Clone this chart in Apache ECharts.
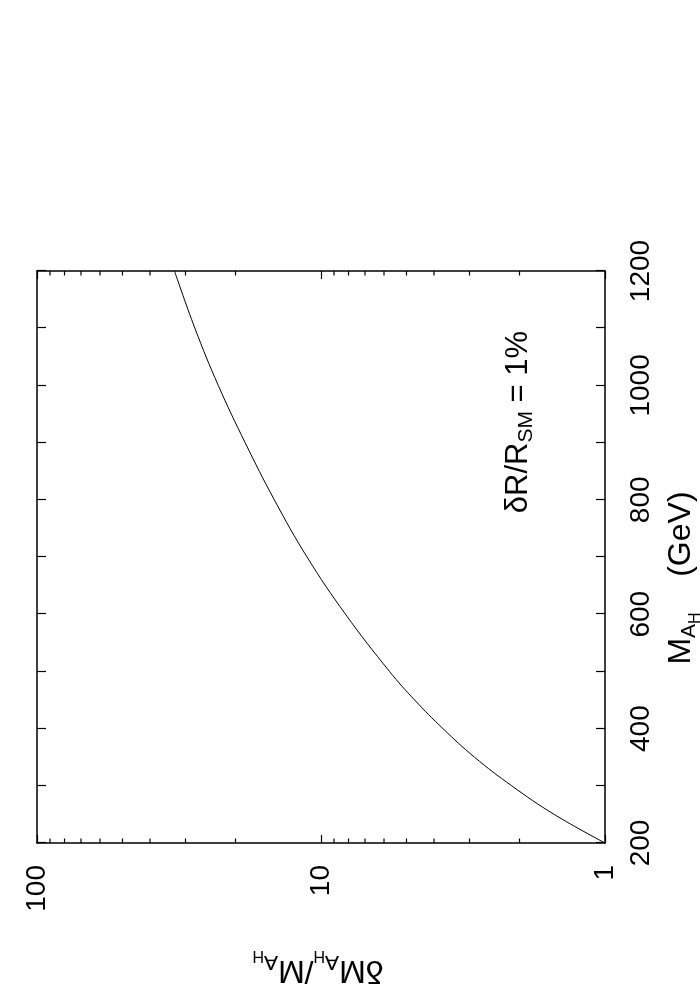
<!DOCTYPE html>
<html><head><meta charset="utf-8">
<script src="https://cdn.jsdelivr.net/npm/echarts@6/dist/echarts.min.js"></script>
<style>
html,body{margin:0;padding:0;background:#fff;overflow:hidden;width:700px;height:1000px;}
#chart{position:absolute;left:0;top:0;width:1000px;height:700px;transform-origin:0 0;transform:translateY(1000px) rotate(-90deg);}
</style></head><body><div id="chart"></div>
<script>
// Data (M_AH in GeV, deltaM/M)
const massGeV    = [200, 250, 300, 350, 400, 450, 500, 600, 700, 800, 900, 1000, 1100, 1200];
const deltaRatio = [1.0, 1.51, 2.13, 2.88, 3.72, 4.68, 5.74, 8.2, 11.2, 14.6, 18.5, 23.0, 27.8, 32.8];
const logMinorTicks = [2,3,4,5,6,7,8,9,20,30,40,50,60,70,80,90];

const FONT = "'Liberation Sans', Arial, Helvetica, sans-serif";
const chart = echarts.init(document.getElementById('chart'), null, {renderer:'canvas', width:1000, height:700});

const xMin = 200, xMax = 1200;
const axisLine = {show:true, lineStyle:{color:'#000', width:1.5}};
const xBase = {
  type:'value', min:xMin, max:xMax, interval:200,
  axisLine, splitLine:{show:false},
  axisTick:{show:true, inside:true, length:9, lineStyle:{color:'#000', width:1.2}},
  minorTick:{show:true, splitNumber:2, length:9, lineStyle:{color:'#000', width:1.2}},
};
const yBase = {
  type:'log', logBase:10, min:1, max:100,
  axisLine, splitLine:{show:false},
  axisTick:{show:true, inside:true, length:8, lineStyle:{color:'#000', width:1.2}},
  minorTick:{show:false}
};

function richSet(mainSize, subSize, subsubSize){
  return {
    m:{fontSize:mainSize, fontFamily:FONT, fill:'#000', verticalAlign:'middle'},
    a:{fontSize:subSize, fontFamily:FONT, fill:'#000', verticalAlign:'middle', padding:[Math.round(subSize*0.75),0,0,0]},
    h:{fontSize:subsubSize, fontFamily:FONT, fill:'#000', verticalAlign:'middle', padding:[Math.round(subsubSize*1.8),0,0,0]}
  };
}

chart.setOption({
  backgroundColor:'#fff',
  animation:false,
  grid:{left:157, right:271, top:37, bottom:95},
  xAxis:[
    Object.assign({}, xBase, {position:'bottom',
      axisLabel:{show:true, margin:22, fontSize:28, color:'#000', fontFamily:FONT, formatter:v=>String(v)}}),
    Object.assign({}, xBase, {position:'top', axisLabel:{show:false}})
  ],
  yAxis:[
    Object.assign({}, yBase, {position:'left',
      axisLabel:{show:true, margin:22, fontSize:28, color:'#000', fontFamily:FONT, formatter:v=>String(v)}}),
    Object.assign({}, yBase, {position:'right', axisLabel:{show:false}})
  ],
  graphic:[
    {type:'text', x:422, y:681, style:{
      text:'{m|M}{a|A}{h|H}{m|    (GeV)}', align:'center', verticalAlign:'middle',
      rich:richSet(32, 21, 16)}},
    {type:'text', x:30, y:318, rotation:Math.PI/2, style:{
      text:'{m|δM}{a|A}{h|H}{m|/M}{a|A}{h|H}', align:'center', verticalAlign:'middle',
      rich:richSet(32, 21, 16)}},
    {type:'text', x:578, y:518, style:{
      text:'{m|δR/R}{a|SM}{m| = 1%}', align:'center', verticalAlign:'middle',
      rich:richSet(31, 21, 16)}}
  ],
  series:[
    {type:'line', xAxisIndex:0, yAxisIndex:0, smooth:0.4, showSymbol:false, silent:true,
     lineStyle:{color:'#000', width:1},
     data: massGeV.map((m,i)=>[m, deltaRatio[i]])},
    {type:'custom', xAxisIndex:0, yAxisIndex:0, silent:true, clip:false,
     data: logMinorTicks.map(v=>[xMin, v]),
     renderItem:function(params, api){
       const v = api.value(1);
       const pl = api.coord([xMin, v]);
       const pr = api.coord([xMax, v]);
       const st = {stroke:'#000', lineWidth:1.2};
       return {type:'group', children:[
         {type:'line', shape:{x1:pl[0], y1:pl[1], x2:pl[0]+4.5, y2:pl[1]}, style:st},
         {type:'line', shape:{x1:pr[0]-4.5, y1:pr[1], x2:pr[0], y2:pr[1]}, style:st}
       ]};
     }}
  ]
});
</script></body></html>
